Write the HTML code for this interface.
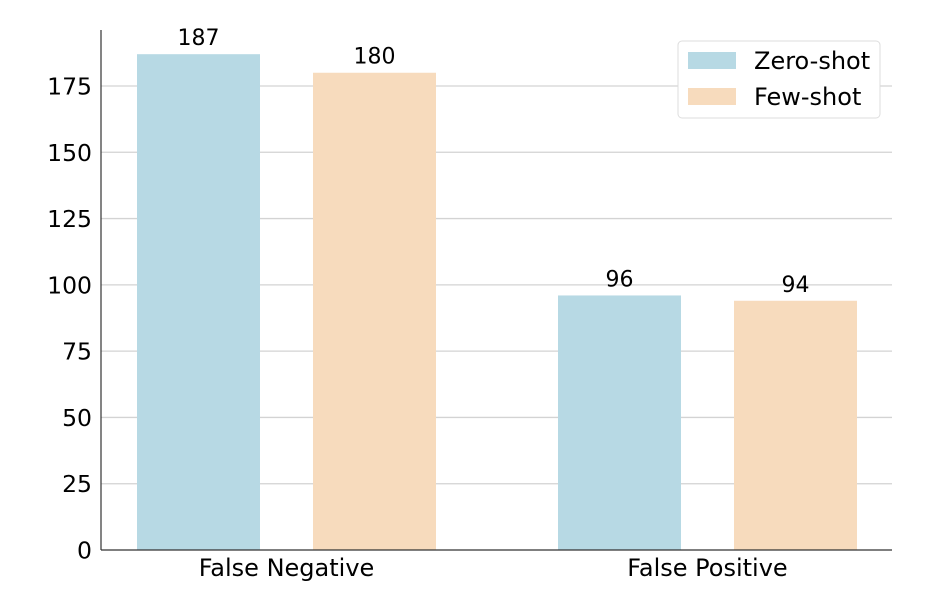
<!DOCTYPE html>
<html><head><meta charset="utf-8"><style>
html,body{margin:0;padding:0;background:#fff;}
svg text{font-family:"DejaVu Sans","Liberation Sans",sans-serif;fill:#000;}
</style></head><body>
<svg id="chart" width="938" height="606" viewBox="0 0 938 606" xmlns="http://www.w3.org/2000/svg">
<g id="grid"></g>
<g id="bars"></g>
<g id="labels"></g>
<line x1="101" y1="30" x2="101" y2="550" stroke="#333" stroke-width="1.2"/>
<line x1="101" y1="550" x2="892" y2="550" stroke="#333" stroke-width="1.2"/>
<g>
<rect x="678" y="41" width="202" height="77" rx="4" fill="#fff" stroke="#ddd"/>
<rect x="688" y="52" width="48" height="17" fill="#b7d9e4"/>
<text x="754" y="69" font-size="24">Zero-shot</text>
<rect x="688" y="88" width="48" height="17" fill="#f7dbbd"/>
<text x="754" y="105" font-size="24">Few-shot</text>
</g>
</svg>
<script>
const categories = ["False Negative", "False Positive"];
const zeroShot = [187, 96];
const fewShot = [180, 94];
const yTicks = [0, 25, 50, 75, 100, 125, 150, 175];
const NS = "http://www.w3.org/2000/svg";
const y = v => 550 - v * (464 / 175);
const catCenter = i => 286.5 + i * 421;
const barW = 123;
function mk(tag, attrs, parent, txt) {
  const e = document.createElementNS(NS, tag);
  for (const k in attrs) e.setAttribute(k, attrs[k]);
  if (txt !== undefined) e.textContent = txt;
  parent.appendChild(e);
  return e;
}
const grid = document.getElementById("grid");
const bars = document.getElementById("bars");
const labels = document.getElementById("labels");
yTicks.forEach(t => {
  if (t > 0) {
    const l = mk("line", {x1: 101, x2: 892, y1: y(t), y2: y(t), stroke: "#d3d3d3", "stroke-width": 1.3}, grid);
    
    
  }
  const tx = mk("text", {x: 92, y: y(t) + 8.5, "text-anchor": "end", "font-size": 23.5}, labels, String(t));
  
  
});
categories.forEach((c, i) => {
  const cx = catCenter(i);
  const series = [[zeroShot[i], "#b7d9e4", cx - 88 - barW / 2, "zero-shot"], [fewShot[i], "#f7dbbd", cx + 88 - barW / 2, "few-shot"]];
  series.forEach(s => {
    const r = mk("rect", {x: s[2], y: y(s[0]), width: barW, height: 550 - y(s[0]), fill: s[1]}, bars);
    
    
    const v = mk("text", {x: s[2] + barW / 2, y: y(s[0]) - 9, "text-anchor": "middle", "font-size": 22}, labels, String(s[0]));
    
    
  });
  const xl = mk("text", {x: cx, y: 576, "text-anchor": "middle", "font-size": 24}, labels, c);
  
  
});
</script>
</body></html>
